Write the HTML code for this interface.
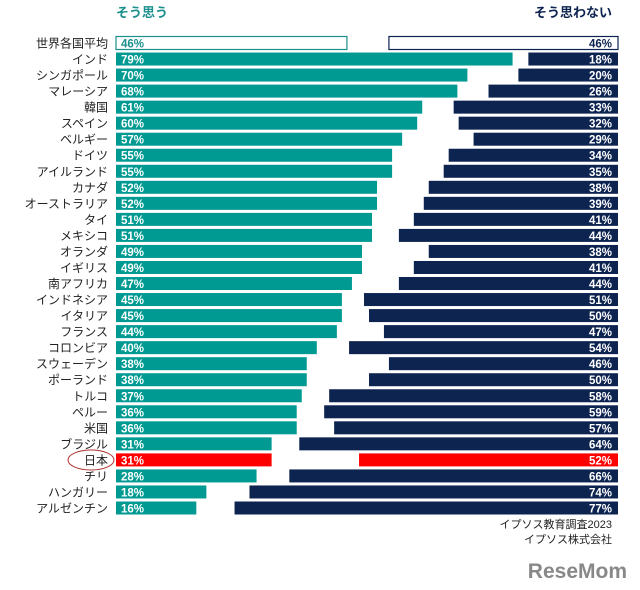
<!DOCTYPE html>
<html><head><meta charset="utf-8"><style>
html,body{margin:0;padding:0;background:#fff;width:640px;height:590px;overflow:hidden}
svg text{font-family:"Liberation Sans","Noto Sans CJK JP",sans-serif}
</style></head><body>
<svg id="chart" width="640" height="590" xmlns="http://www.w3.org/2000/svg">
<text x="116" y="17" font-size="13" font-weight="bold" fill="#1a8f8c">そう思う</text>
<text x="612" y="17" font-size="13" font-weight="bold" fill="#0d2350" text-anchor="end">そう思わない</text>
<g id="bars"></g>
<ellipse cx="91" cy="460" rx="23" ry="10" fill="none" stroke="#b03030" stroke-width="1"/>
<text x="612" y="528" font-size="11" fill="#222" text-anchor="end">イプソス教育調査2023</text>
<text x="612" y="543" font-size="11" fill="#222" text-anchor="end">イプソス株式会社</text>
<text x="627" y="578" font-size="21" font-weight="bold" fill="#888" text-anchor="end">ReseMom</text>
</svg>
<script>
const countries=["世界各国平均","インド","シンガポール","マレーシア","韓国","スペイン","ベルギー","ドイツ","アイルランド","カナダ","オーストラリア","タイ","メキシコ","オランダ","イギリス","南アフリカ","インドネシア","イタリア","フランス","コロンビア","スウェーデン","ポーランド","トルコ","ペルー","米国","ブラジル","日本","チリ","ハンガリー","アルゼンチン"];
const agree=[46,79,70,68,61,60,57,55,55,52,52,51,51,49,49,47,45,45,44,40,38,38,37,36,36,31,31,28,18,16];
const disagree=[46,18,20,26,33,32,29,34,35,38,39,41,44,38,41,44,51,50,47,54,46,50,58,59,57,64,52,66,74,77];
const NS="http://www.w3.org/2000/svg";
const g=document.getElementById('bars');
const x0=116,xr=618,sl=5.02,sr=4.98,y0=43,step=(508-43)/(countries.length-1),bh=13;
const yc=i=>y0+i*step;
function mk(t,a){const e=document.createElementNS(NS,t);for(const k in a)e.setAttribute(k,a[k]);g.appendChild(e);return e;}
countries.forEach((c,i)=>{
  const y=yc(i), avg=i===0, jp=c==="日本";
  const lc=avg?"#fff":jp?"#ff0000":"#009a93";
  const rc=avg?"#fff":jp?"#ff0000":"#0d2350";
  const lab=mk('text',{x:108,y:y+4.5,'font-size':12,fill:'#222','text-anchor':'end'});lab.textContent=c;
  
  
  const lw=agree[i]*sl;
  const lb=mk('rect',{x:x0,y:y-bh/2,width:lw,height:bh,fill:lc,stroke:avg?'#1a8f8c':'none','stroke-width':1.2});
  
  
  const lt=mk('text',{x:x0+5,y:y+4.5,'font-size':11.5,'font-weight':'bold',fill:avg?'#1a8f8c':'#fff'});lt.textContent=agree[i]+'%';
  
  
  const rw=disagree[i]*sr;
  const rb=mk('rect',{x:xr-rw,y:y-bh/2,width:rw,height:bh,fill:rc,stroke:avg?'#0d2350':'none','stroke-width':1.2});
  
  
  const rt=mk('text',{x:xr-6,y:y+4.5,'font-size':11.5,'font-weight':'bold',fill:avg?'#0d2350':'#fff','text-anchor':'end'});rt.textContent=disagree[i]+'%';
  
  
});
</script>
</body></html>
